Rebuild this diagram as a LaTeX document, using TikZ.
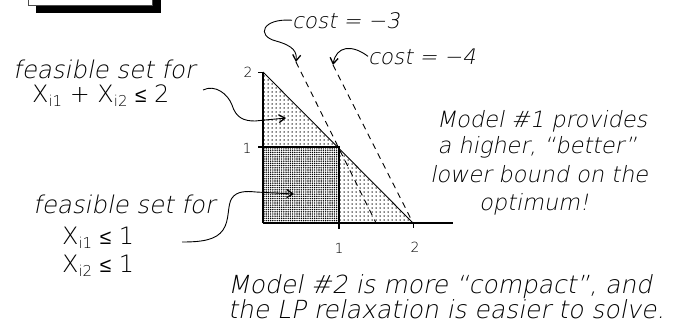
\documentclass[tikz,border=0pt]{standalone}
\usepackage{fontspec}
\setmainfont{DejaVu Sans}
\newfontfamily\thinup{DejaVu Sans ExtraLight}
\newfontfamily\thinit[FakeSlant=0.2]{DejaVu Sans ExtraLight}
\newfontfamily\lesymfont{Liberation Sans}
\usetikzlibrary{patterns.meta,arrows.meta}
\begin{document}
\begin{tikzpicture}[x=1bp,y=-1bp,
  hand/.style={font=\thinit\fontsize{23}{28}\selectfont, inner sep=0pt},
  xlab/.style={font=\thinup\fontsize{24}{28}\selectfont, inner sep=0pt},
  ticklab/.style={font=\thinup\fontsize{14}{14}\selectfont, inner sep=0pt},
  axis/.style={line width=1.4bp},
  costline/.style={dash pattern=on 6bp off 5bp, line width=0.9bp},
  pointer/.style={line width=0.9bp, -{Straight Barb[length=6bp,width=8bp,line width=1.3bp]}},
]
\newcommand{\sbx}[1]{\raisebox{-4bp}{\fontsize{15}{15}\selectfont #1}}
\newcommand{\lesym}{{\lesymfont\fontsize{21}{24}\selectfont ≤}}
\useasboundingbox (0,0) rectangle (689,324);

% title box (cut off at top)
\fill[black] (36,-10) rectangle (161,13);
\draw[fill=white, line width=1bp, draw=black!70] (28,-10) rectangle (152,5);

% geometry
\coordinate (O) at (263,223);
\coordinate (A) at (413,223);
\coordinate (B) at (263,72);
\coordinate (C) at (339,147);
\coordinate (P) at (339,223);
\coordinate (Q) at (263,147);
\coordinate (H) at (376,223);
\coordinate (c3top) at (296,62);
\coordinate (c4top) at (333,65);

\fill[pattern={Dots[distance=4bp,radius=0.75bp]}] (O) -- (A) -- (B) -- cycle;
\fill[white] (O) rectangle (C);
\fill[pattern={Dots[distance=2.2bp,radius=0.8bp]}] (O) rectangle (C);

\draw[line width=0.9bp] (B) -- (A);
\draw[axis] (O) -- (453,223);
\draw[axis] (O) -- (B);
\draw[line width=1bp] (258,72) -- (B);
\draw[line width=1.2bp] (258,147) -- (C) -- (339,229);
\draw[line width=1bp] (A) -- (413,228);

\draw[costline] (c3top) -- (H);
\draw[costline] (c4top) -- (A);

% tick labels
\node[ticklab] (ty2) at (248,72) {2};
\node[ticklab] (ty1) at (247,148) {1};
\node[ticklab] (tx1) at (339,248) {1};
\node[ticklab] (tx2) at (415,247) {2};

% cost labels
\node[hand, anchor=base west, font=\thinit\fontsize{21.5}{24}\selectfont] (c3) at (292,28) {cost = −3};
\node[hand, anchor=base west, font=\thinit\fontsize{21.5}{24}\selectfont] (c4) at (368,64) {cost = −4};
\draw[pointer] (c3.west) .. controls (262,18) and (256,36) .. (276,41)
   .. controls (294,46) and (297,52) .. (c3top);
\draw[pointer] (c4.west) .. controls (352,44) and (336,46) .. (c4top);

% feasible set labels
\node[hand, anchor=base west, font=\thinit\fontsize{24.5}{28}\selectfont] (f1a) at (13,78) {feasible set for};
\node[xlab, anchor=base west] (f1b) at (32,102) {X\sbx{i1} + X\sbx{i2} \lesym{} 2};
\coordinate (a1s) at (203,90);
\coordinate (a1e) at (286,118);
\draw[pointer] (a1s) .. controls (215,84) and (228,94) .. (232,105)
   .. controls (236,118) and (244,121) .. (255,121) -- (a1e);

\node[hand, anchor=base west, font=\thinit\fontsize{24.5}{28}\selectfont] (f2a) at (33,213) {feasible set for};
\node[xlab, anchor=base west] (f2b) at (62,244) {X\sbx{i1} \lesym{} 1};
\node[xlab, anchor=base west] (f2c) at (62,272) {X\sbx{i2} \lesym{} 1};
\coordinate (a2s) at (182,242);
\coordinate (a2e) at (294,194);
\draw[pointer] (a2s) .. controls (202,242) and (216,240) .. (223,230)
   .. controls (230,220) and (227,205) .. (232,198)
   .. controls (237,191) and (246,191) .. (256,192) -- (a2e);

% right remark
\node[hand, anchor=base, font=\thinit\fontsize{22.5}{28}\selectfont] (m1a) at (542,127) {Model \#1 provides};
\node[hand, anchor=base, font=\thinit\fontsize{22.5}{28}\selectfont] (m1b) at (537,153) {a higher, “better”};
\node[hand, anchor=base, font=\thinit\fontsize{22.5}{28}\selectfont] (m1c) at (539,182) {lower bound on the};
\node[hand, anchor=base, font=\thinit\fontsize{22.5}{28}\selectfont] (m1d) at (534,210) {optimum!};

% bottom remark
\node[hand, anchor=base west, font=\thinit\fontsize{25}{28}\selectfont] (m2a) at (228,293) {Model \#2 is more “compact”, and};
\node[hand, anchor=base west, font=\thinit\fontsize{25}{28}\selectfont] (m2b) at (228,318) {the LP relaxation is easier to solve.};
\end{tikzpicture}
\end{document}
